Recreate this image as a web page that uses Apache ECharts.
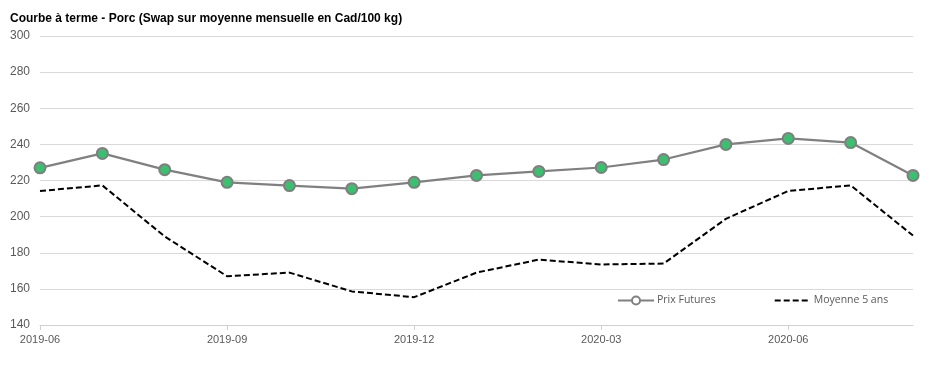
<!DOCTYPE html>
<html><head><meta charset="utf-8">
<script src="https://cdn.jsdelivr.net/npm/echarts@6/dist/echarts.min.js"></script>
<style>html,body{margin:0;padding:0;background:#fff}#c{width:947px;height:369px}</style>
</head><body><div id="c"></div>
<script>
const categories = ['2019-06','2019-07','2019-08','2019-09','2019-10','2019-11','2019-12','2020-01','2020-02','2020-03','2020-04','2020-05','2020-06','2020-07','2020-08'];
const prixFutures = [227, 235, 226, 219, 217.2, 215.5, 219, 222.8, 225, 227.2, 231.6, 240, 243.3, 241, 222.8];
const moyenne5ans = [214.2, 217.3, 189, 167, 169, 158.6, 155.4, 169, 176.2, 173.5, 174, 198.8, 214.2, 217.3, 189.5];
const yTicks = {min:140, max:300, interval:20};

const chart = echarts.init(document.getElementById('c'), null, {renderer:'canvas'});
chart.setOption({
  animation:false,
  backgroundColor:'#fff',
  title:{text:'Courbe à terme - Porc (Swap sur moyenne mensuelle en Cad/100 kg)', left:5, top:8,
    textStyle:{fontFamily:'Liberation Sans, Arial', fontSize:12, fontWeight:'bold', color:'#000'}},
  grid:{left:40, right:34, top:36, bottom:44, containLabel:false},
  legend:{left:612, top:290, itemGap:58, itemWidth:36, itemHeight:10,
    textStyle:{fontFamily:'Open Sans, Liberation Sans, Arial', fontSize:10.5, color:'#595959', padding:[0,0,0,-2]},
    data:[
      {name:'Prix Futures', itemStyle:{color:'#fff', borderColor:'#808080', borderWidth:2}},
      {name:'Moyenne 5 ans', itemStyle:{color:'rgba(0,0,0,0)', borderWidth:0}}
    ]},
  xAxis:{type:'category', data:categories, boundaryGap:false,
    axisLine:{lineStyle:{color:'#d0d0d0'}},
    axisTick:{interval:2, length:5, lineStyle:{color:'#d0d0d0'}},
    axisLabel:{interval:2, color:'#595959', fontFamily:'Liberation Sans, Arial', fontSize:11, margin:9}},
  yAxis:{type:'value', min:yTicks.min, max:yTicks.max, interval:yTicks.interval,
    axisLine:{show:false}, axisTick:{show:false},
    splitLine:{lineStyle:{color:'#d9d9d9'}},
    axisLabel:{color:'#595959', fontFamily:'Liberation Sans, Arial', fontSize:12, margin:10}},
  series:[
    {name:'Prix Futures', type:'line', data:prixFutures, symbol:'circle', symbolSize:11,
      lineStyle:{color:'#808080', width:2.2},
      itemStyle:{color:'#3dbf72', borderColor:'#7f7f7f', borderWidth:2}},
    {name:'Moyenne 5 ans', type:'line', data:moyenne5ans, symbol:'none',
      lineStyle:{color:'#000', width:2, type:[6,3]}, itemStyle:{color:'#000'}}
  ]
});
</script></body></html>
